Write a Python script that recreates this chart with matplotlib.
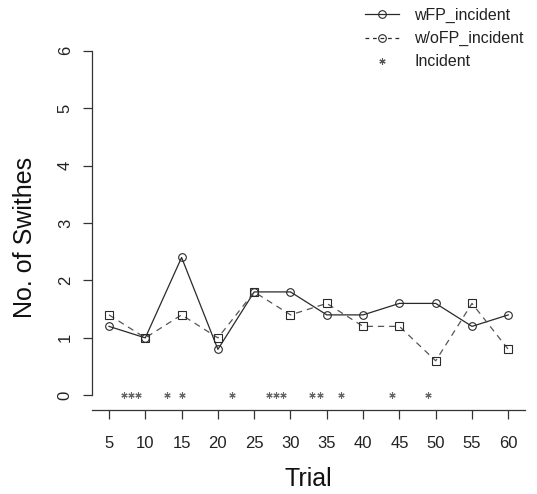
import matplotlib
matplotlib.use("Agg")
import matplotlib.pyplot as plt
from matplotlib.lines import Line2D

plt.rcParams["font.family"] = ["Liberation Sans", "DejaVu Sans"]

# data
trials = [5, 10, 15, 20, 25, 30, 35, 40, 45, 50, 55, 60]
wfp_incident = [1.2, 1.0, 2.4, 0.8, 1.8, 1.8, 1.4, 1.4, 1.6, 1.6, 1.2, 1.4]
wofp_incident = [1.4, 1.0, 1.4, 1.0, 1.8, 1.4, 1.6, 1.2, 1.2, 0.6, 1.6, 0.8]
incident_trials = [7, 8, 9, 13, 15, 22, 27, 28, 29, 33, 34, 37, 44, 49]
incident_level = [0] * len(incident_trials)

W, H = 537, 494
fig = plt.figure(figsize=(W / 100, H / 100), dpi=100)
ax = fig.add_axes([92.3 / W, 1 - 410 / H, (525 - 92.3) / W, (410 - 50.7) / H])

ax.plot(trials, wfp_incident, color="#2a2a2a", lw=0.9, marker="o", ms=5.5,
        mfc="none", mec="#2a2a2a", mew=0.8, clip_on=False)
ax.plot(trials, wofp_incident, color="#555555", lw=0.9, ls=(0, (5, 4)),
        marker="s", ms=5.5, mfc="none", mec="#2a2a2a", mew=0.8, clip_on=False)
ax.plot(incident_trials, incident_level, ls="none", marker=(6, 2, 0), ms=4.5,
        mec="#666666", mew=0.8, clip_on=False)

ax.set_xlim(2.7, 62.3)
ax.set_ylim(-0.256, 6)
ax.set_xticks(trials)
ax.set_yticks(range(0, 7))

for side in ["top", "right"]:
    ax.spines[side].set_visible(False)
ax.spines["left"].set_bounds(0, 6)
for side in ["left", "bottom"]:
    ax.spines[side].set_color("#333333")
    ax.spines[side].set_linewidth(0.9)

ax.tick_params(axis="both", direction="out", length=6.5, width=0.9,
               color="#333333", labelsize=12, labelcolor="#222222")
ax.tick_params(axis="x", pad=12.5)
ax.tick_params(axis="y", pad=7.5, labelrotation=90)
for lab in ax.get_yticklabels():
    lab.set_va("center")

ax.set_xlabel("Trial", fontsize=18, color="#111111")
ax.xaxis.set_label_coords(0.5, -0.158)
ax.set_ylabel("No. of Swithes", fontsize=18, color="#111111", va="center")
ax.yaxis.set_label_coords(-0.155, 0.479)

handles = [
    Line2D([], [], color="#2a2a2a", lw=0.9, marker="o", ms=5.5, mfc="none", mew=0.8),
    Line2D([], [], color="#2a2a2a", lw=0.9, ls=(0, (3, 3)), marker="o", ms=5.5,
           mfc="none", mew=0.8),
    Line2D([], [], ls="none", marker=(6, 2, 0), ms=4.5, mec="#555555", mew=0.8),
]
fig.legend(handles, ["wFP_incident", "w/oFP_incident", "Incident"],
           loc="upper left", bbox_to_anchor=(365 / W, 1 - 8 / H),
           frameon=False, fontsize=11.5, handlelength=2.1, handletextpad=1.0,
           labelspacing=0.5, borderpad=0, borderaxespad=0,
           labelcolor="#222222")

fig.savefig("out.png", dpi=100)
